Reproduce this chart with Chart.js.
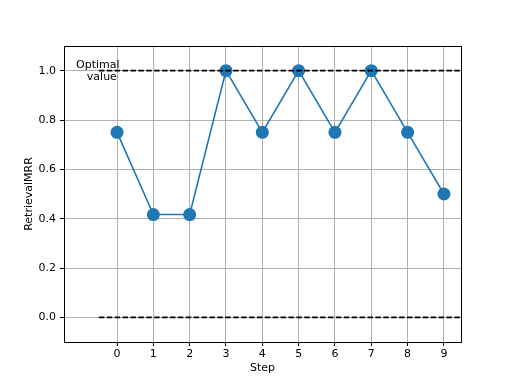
<!DOCTYPE html>
<html>
<head>
<meta charset="utf-8">
<script src="https://cdn.jsdelivr.net/npm/chart.js@4/dist/chart.umd.min.js"></script>
<style>
  html, body { margin: 0; padding: 0; background: #fff; }
  #wrap { width: 512px; height: 384px; }
</style>
</head>
<body>
<div id="wrap"><canvas id="mrrChart" width="512" height="384"></canvas></div>
<script>
const steps = [0, 1, 2, 3, 4, 5, 6, 7, 8, 9];
const mrrValues = [0.75, 0.4167, 0.4167, 1.0, 0.75, 1.0, 0.75, 1.0, 0.75, 0.5];
const xTicks = [0, 1, 2, 3, 4, 5, 6, 7, 8, 9];
const yTicks = [0.0, 0.2, 0.4, 0.6, 0.8, 1.0];
const optimalValue = 1.0;
const baselineValue = 0.0;
const refLineStart = -0.5;
const xMin = -1.46, xMax = 9.47;
const yMin = -0.1, yMax = 1.1;
const xLabel = "Step";
const yLabel = "RetrievalMRR";

const blue = "#1f77b4";
const font = { family: "DejaVu Sans", size: 11 };

/* global Chart */

const mainPoints = steps.map((s, i) => ({ x: s, y: mrrValues[i] }));

// frame, axis titles and the "Optimal value" label
const extras = {
    id: "extras",
    afterDatasetsDraw(chart)
    {
        const ctx = chart.ctx;
        const a = chart.chartArea;
        const xs = chart.scales.x;
        const ys = chart.scales.y;

        ctx.save();
        ctx.strokeStyle = "#000";
        ctx.lineWidth = 1;
        ctx.strokeRect(a.left + 0.5, a.top + 0.5, a.right - a.left, a.bottom - a.top);

        ctx.fillStyle = "#000";
        ctx.font = "11px 'DejaVu Sans'";
        ctx.textAlign = "center";
        ctx.textBaseline = "middle";
        const px = xs.getPixelForValue(refLineStart);
        const py = ys.getPixelForValue(optimalValue);
        ctx.fillText("Optimal", px - 1, py - 6);
        ctx.fillText("value", px + 3, py + 6);

        ctx.fillText(xLabel, (a.left + a.right) / 2, a.bottom + 26);

        ctx.translate(a.left - 35, (a.top + a.bottom) / 2);
        ctx.rotate(-Math.PI / 2);
        ctx.fillText(yLabel, 0, 0);
        ctx.restore();
    }
};

new Chart(document.getElementById("mrrChart"), {
    type: "line",
    data: {
        datasets: [
            {
                data: mainPoints,
                borderColor: blue,
                backgroundColor: blue,
                borderWidth: 1.6,
                pointRadius: 6.5,
                pointHoverRadius: 6.5,
                pointBorderWidth: 0,
                tension: 0,
                order: 2
            },
            {
                data: [{ x: refLineStart, y: optimalValue }, { x: xMax, y: optimalValue }],
                borderColor: "#000",
                borderWidth: 1.6,
                borderDash: [5.5, 2.4],
                pointRadius: 0,
                order: 1
            },
            {
                data: [{ x: refLineStart, y: baselineValue }, { x: xMax, y: baselineValue }],
                borderColor: "#000",
                borderWidth: 1.6,
                borderDash: [5.5, 2.4],
                pointRadius: 0,
                order: 1
            }
        ]
    },
    options: {
        responsive: false,
        animation: false,
        layout: { padding: { top: 46, right: 51, left: 0, bottom: 0 } },
        plugins: {
            legend: { display: false },
            tooltip: { enabled: false }
        },
        scales: {
            x: {
                type: "linear",
                min: xMin,
                max: xMax,
                afterBuildTicks: (scale) => { scale.ticks = xTicks.map(v => ({ value: v })); },
                afterFit: (scale) => { scale.height = 42; },
                ticks: {
                    color: "#000",
                    font: font,
                    padding: 2,
                    maxRotation: 0,
                    callback: (v) => String(v)
                },
                grid: {
                    color: "#b0b0b0",
                    lineWidth: 1,
                    tickColor: "#000",
                    tickLength: 4
                },
                border: { display: false }
            },
            y: {
                min: yMin,
                max: yMax,
                afterBuildTicks: (scale) => { scale.ticks = yTicks.map(v => ({ value: v })); },
                afterFit: (scale) => { scale.width = 64; },
                ticks: {
                    color: "#000",
                    font: font,
                    padding: 4,
                    callback: (v) => v.toFixed(1)
                },
                grid: {
                    color: "#b0b0b0",
                    lineWidth: 1,
                    tickColor: "#000",
                    tickLength: 4
                },
                border: { display: false }
            }
        }
    },
    plugins: [extras]
});
</script>
</body>
</html>
